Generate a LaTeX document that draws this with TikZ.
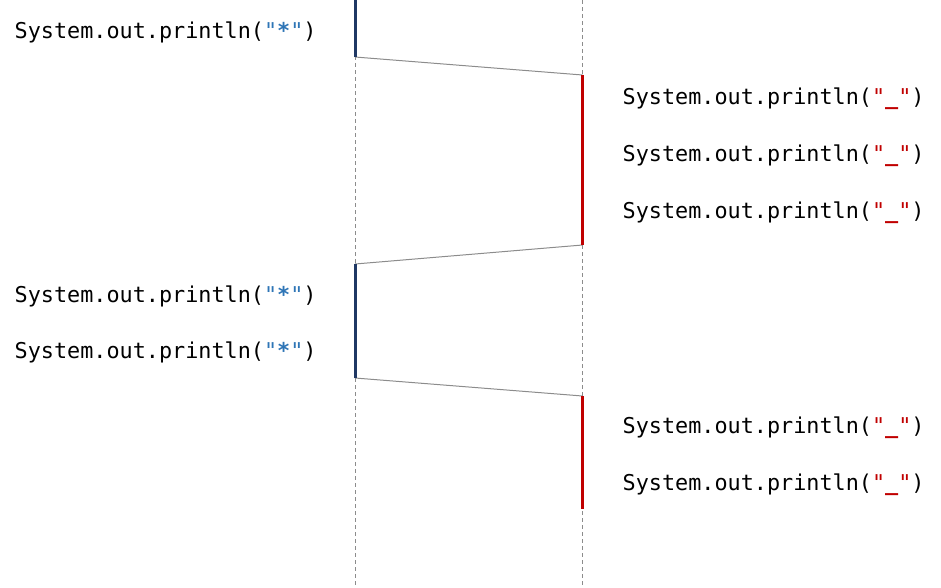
\documentclass[tikz,border=0pt]{standalone}
\usepackage{fontspec}
\setmonofont{DejaVu Sans Mono}
\definecolor{barblue}{HTML}{1F3864}
\definecolor{txtblue}{HTML}{2E75B6}
\definecolor{barred}{HTML}{C00000}
\definecolor{linegray}{HTML}{8C8C8C}
\tikzset{
  code/.style={anchor=base west, inner sep=0pt, font=\ttfamily\fontsize{21.8}{26}\selectfont},
  lifeline/.style={draw=linegray, line width=0.9pt, dash pattern=on 4pt off 3pt},
  bluebar/.style={draw=barblue, line width=3pt},
  redbar/.style={draw=barred, line width=3pt},
  msg/.style={draw=linegray, line width=1pt}
}
\newcommand{\starline}{System.out.println(\textcolor{txtblue}{"{\bfseries *}"})}
\newcommand{\usline}{System.out.println(\textcolor{barred}{"{\bfseries\_}"})}
\begin{document}
\begin{tikzpicture}[x=1pt,y=-1pt]
\useasboundingbox (0,0) rectangle (941,587);
% lifelines
\coordinate (Ltop) at (355,0);
\coordinate (Lbot) at (355,587);
\coordinate (Rtop) at (582.5,0);
\coordinate (Rbot) at (582.5,587);
\draw[lifeline] (Ltop) -- (Lbot);
\draw[lifeline] (Rtop) -- (Rbot);
% activation ends
\coordinate (b1s) at (355,0);
\coordinate (b1e) at (355,57);
\coordinate (r1s) at (582.5,75);
\coordinate (r1e) at (582.5,245);
\coordinate (b2s) at (355,264);
\coordinate (b2e) at (355,378);
\coordinate (r2s) at (582.5,396);
\coordinate (r2e) at (582.5,509);
% messages
\draw[msg] (b1e) -- (r1s);
\draw[msg] (r1e) -- (b2s);
\draw[msg] (b2e) -- (r2s);
% bars
\draw[bluebar] (b1s) -- (b1e);
\draw[redbar] (r1s) -- (r1e);
\draw[bluebar] (b2s) -- (b2e);
\draw[redbar] (r2s) -- (r2e);
% texts
\node[code] (t1) at (14.5,38) {\starline};
\node[code] (t2) at (622.5,104) {\usline};
\node[code] (t3) at (622.5,161) {\usline};
\node[code] (t4) at (622.5,218) {\usline};
\node[code] (t5) at (14.5,302) {\starline};
\node[code] (t6) at (14.5,358) {\starline};
\node[code] (t7) at (622.5,433) {\usline};
\node[code] (t8) at (622.5,490) {\usline};
\end{tikzpicture}
\end{document}
